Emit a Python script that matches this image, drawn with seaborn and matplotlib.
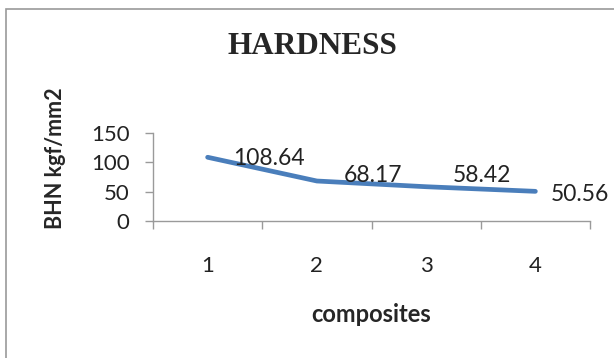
import matplotlib
matplotlib.use("Agg")
import matplotlib.pyplot as plt
import seaborn as sns
import pandas as pd
from matplotlib.patches import Rectangle

# Brinell hardness of each composite
composites = ["1", "2", "3", "4"]
hardness = [108.64, 68.17, 58.42, 50.56]
y_ticks = [0, 50, 100, 150]

# placement of each value label relative to its point (points: right, up)
label_offsets = [(18, -1), (19, 4), (19, 8), (11, -2)]

sns.set_theme(style="white")
plt.rcParams["font.family"] = ["Lato", "DejaVu Sans"]

df = pd.DataFrame({"composites": composites, "hardness": hardness})

W, H = 614, 358
fig = plt.figure(figsize=(W / 100, H / 100), dpi=100)
fig.patch.set_facecolor("white")

# chart frame
fig.patches.append(Rectangle((6 / W, -0.05), 1.2, 1 - 9 / H + 0.05,
                             transform=fig.transFigure, fill=False,
                             edgecolor="#9a9a9a", linewidth=1.2))

ax = fig.add_axes([153 / W, 1 - 221 / H, (590 - 153) / W, 88 / H])
sns.lineplot(data=df, x="composites", y="hardness", ax=ax,
             color="#4a7ebb", linewidth=3.4, sort=False)

ax.set_xlim(-0.5, 3.5)
ax.set_ylim(0, 150)
ax.set_yticks(y_ticks)
ax.set_yticklabels([str(v) for v in y_ticks], fontsize=16, color="#222222")

# category boundaries as tick marks, category names centred between them
ax.set_xticks([-0.5, 0.5, 1.5, 2.5, 3.5])
ax.set_xticklabels([])
ax.set_xticks(range(len(composites)), minor=True)
ax.set_xticklabels(composites, minor=True, fontsize=16, color="#222222")
ax.tick_params(axis="x", which="major", length=6, width=1, color="#9a9a9a",
               direction="out", bottom=True)
ax.tick_params(axis="x", which="minor", length=0, pad=25)
ax.tick_params(axis="y", length=6, width=1, color="#9a9a9a", direction="out",
               left=True, pad=11)

for side in ["top", "right"]:
    ax.spines[side].set_visible(False)
for side in ["left", "bottom"]:
    ax.spines[side].set_color("#9a9a9a")
    ax.spines[side].set_linewidth(1)

ax.set_xlabel("")
ax.set_ylabel("")

# value labels to the right of each point
for i, (v, off) in enumerate(zip(hardness, label_offsets)):
    ax.annotate(f"{v:.2f}", (i, v), xytext=off, textcoords="offset points",
                fontsize=16.5, color="#222222", va="center", ha="left")

fig.text(312 / W, 1 - 47 / H, "HARDNESS", family="Liberation Serif",
         fontweight="bold", fontsize=22.5, ha="center", va="center")
fig.text(371 / W, 1 - 322 / H, "composites", fontweight="bold",
         fontsize=17, ha="center", va="baseline")
fig.text(55 / W, 1 - 158 / H, "BHN kgf/mm2", fontweight="bold",
         fontsize=15.5, ha="center", va="center", rotation=90)

fig.savefig("out.png", dpi=100, facecolor="white")
